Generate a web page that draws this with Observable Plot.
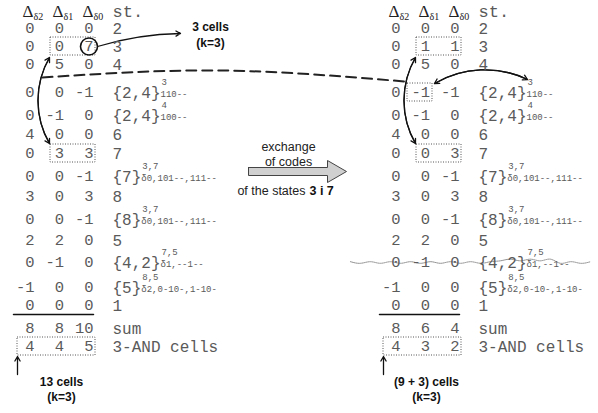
<!DOCTYPE html>
<html><head><meta charset="utf-8">
<script src="https://cdn.jsdelivr.net/npm/d3@7"></script>
<script src="https://cdn.jsdelivr.net/npm/@observablehq/plot@0.6"></script>
<style>body{margin:0;background:#fff}svg{display:block}</style>
</head><body><div id="chart"></div>
<script>
// ---- data ----
const stLabels = ["2","3","4","{2,4}","{2,4}","6","7","{7}","8","{8}","5","{4,2}","{5}","1"];
const stSups = ["","","","3","4","","","3,7","","3,7","","7,5","8,5",""];
const stSubs = ["","","","110--","100--","","","δ0,101--,111--","","δ0,101--,111--","","δ1,--1--","δ2,0-10-,1-10-",""];
const leftD2  = [0,0,0,0,0,4,0,0,3,0,2,0,-1,0];
const leftD1  = [0,0,5,0,-1,0,3,0,0,0,2,-1,0,0];
const leftD0  = [0,7,0,-1,0,0,3,-1,3,-1,0,0,0,0];
const rightD2 = [0,0,0,0,0,4,0,0,3,0,2,0,-1,0];
const rightD1 = [0,1,5,-1,-1,0,0,0,0,0,2,-1,0,0];
const rightD0 = [0,1,0,-1,0,0,3,-1,3,-1,0,0,0,0];
const leftSum = [8,8,10], rightSum = [8,6,4];
const leftCells = [4,4,5], rightCells = [4,3,2];
const headers = ["δ2","δ1","δ0"];
const leftNote = ["13 cells","(k=3)"], rightNote = ["(9 + 3) cells","(k=3)"];
const topNote = ["3 cells","(k=3)"];
const arrowText = ["exchange","of codes","of the states","3 i 7"];

// ---- layout ----
const W = 598, H = 413;
const colR = [34, 63.5, 93];
const stX = 112, OFF = 366, CH = 9.6;
const rowY = [28,46,64,92,115,134,153,176,196,219,240,262,287,305];
const sumY = 328, cellY = 346, headY = 11;
const mono = "Liberation Mono, DejaVu Sans Mono, monospace";
const sans = "Liberation Sans, Arial, sans-serif";
const serif = "Liberation Serif, Times New Roman, serif";
const grey = "#5a5a5a";

const nums = [], labels = [], sups = [], subs = [], hd = [], hdSub = [], st = [];
const tables = [
  {cols: [leftD2, leftD1, leftD0], sum: leftSum, cells: leftCells, off: 0},
  {cols: [rightD2, rightD1, rightD0], sum: rightSum, cells: rightCells, off: OFF}
];
for (const tb of tables) {
  tb.cols.forEach((col, j) => col.forEach((v, i) => nums.push({x: colR[j] + tb.off, y: rowY[i], t: String(v)})));
  tb.sum.forEach((v, j) => nums.push({x: colR[j] + tb.off, y: sumY, t: String(v)}));
  tb.cells.forEach((v, j) => nums.push({x: colR[j] + tb.off, y: cellY, t: String(v)}));
  stLabels.forEach((t, i) => labels.push({x: stX + tb.off, y: rowY[i], t}));
  labels.push({x: stX + tb.off, y: sumY, t: "sum"}, {x: stX + tb.off, y: cellY, t: "3-AND cells"});
  stSups.forEach((t, i) => { if (t) sups.push({x: stX + tb.off + stLabels[i].length * CH + 1, y: rowY[i] - 10.5, t}); });
  stSubs.forEach((t, i) => { if (t) subs.push({x: stX + tb.off + stLabels[i].length * CH, y: rowY[i] + 2, t}); });
  headers.forEach((h, j) => {
    hd.push({x: 22 + 30 * j + tb.off, y: headY, t: "Δ"});
    hdSub.push({x: 33 + 30 * j + tb.off, y: headY + 5, t: h});
  });
  st.push({x: stX + tb.off, y: headY, t: "st."});
}
// dotted boxes
const boxes = [
  {x1: 50, x2: 95, y1: 37, y2: 55},
  {x1: 50, x2: 95, y1: 144, y2: 162},
  {x1: 17, x2: 95, y1: 337, y2: 355},
  {x1: 50 + OFF, x2: 95 + OFF, y1: 37, y2: 55},
  {x1: 41 + OFF, x2: 66 + OFF, y1: 83, y2: 101},
  {x1: 50 + OFF, x2: 95 + OFF, y1: 144, y2: 162},
  {x1: 17 + OFF, x2: 95 + OFF, y1: 337, y2: 355}
];
const underlines = [
  [{x: 13, y: 314}, {x: 93, y: 314}],
  [{x: 13 + OFF, y: 314}, {x: 93 + OFF, y: 314}]
];
const dashed = [{x: 42, y: 77}, {x: 220, y: 70}, {x: 404, y: 81}];
const wave = d3.range(350, 598, 10).map((x, k) => ({x, y: 262 + (k % 2 ? 0.8 : -0.8) + (x > 490 && x < 560 ? -2.5 : 0)}));
const bigArrow = [[248,167],[327,167],[327,160],[346,171],[327,182],[327,175],[248,175],[248,167]].map(([x,y]) => ({x,y}));

// arrows grouped by bend angle
const arrowsTop = [{x1: 97, y1: 46, x2: 180, y2: 33}];
const arrowsDown = [{x1: 49, y1: 57, x2: 49, y2: 143}, {x1: 49 + OFF, y1: 57, x2: 49 + OFF, y2: 143}];
const arrowsUp = [{x1: 49, y1: 143, x2: 49, y2: 57}, {x1: 49 + OFF, y1: 143, x2: 49 + OFF, y2: 57}];
const arrowsRight = [{x1: 434, y1: 83, x2: 527, y2: 79}];
const arrowsLeft = [{x1: 527, y1: 79, x2: 434, y2: 83}];
const arrowsStraight = [{x1: 17, y1: 374, x2: 17, y2: 356}, {x1: 17 + OFF, y1: 374, x2: 17 + OFF, y2: 356}];
const notes = [
  {x: 61, y: 382, t: leftNote[0]}, {x: 61, y: 397, t: leftNote[1]},
  {x: 426, y: 382, t: rightNote[0]}, {x: 426, y: 397, t: rightNote[1]},
  {x: 210, y: 27, t: topNote[0]}, {x: 210, y: 43, t: topNote[1]}
];
const arrowOpts = {x1: "x1", y1: "y1", x2: "x2", y2: "y2", stroke: "#111", strokeWidth: 1.3, headLength: 6};

const chart = Plot.plot({
  width: W, height: H, margin: 0,
  x: {domain: [0, W], range: [0, W], axis: null},
  y: {domain: [0, H], range: [0, H], axis: null},
  marks: [
    Plot.line(bigArrow, {x: "x", y: "y", fill: "#d0d0d0", stroke: "#444", strokeWidth: 1}),
    Plot.line(dashed, {x: "x", y: "y", curve: "natural", stroke: "#222", strokeWidth: 2, strokeDasharray: "10,6"}),
    Plot.line(wave, {x: "x", y: "y", curve: "natural", stroke: "#888", strokeWidth: 1, strokeDasharray: "1,1"}),
    Plot.rect(boxes, {x1: "x1", x2: "x2", y1: "y1", y2: "y2", fill: "none", stroke: "#555", strokeWidth: 1, strokeDasharray: "1,1.5"}),
    ...underlines.map(u => Plot.line(u, {x: "x", y: "y", stroke: "#111", strokeWidth: 1.5})),
    Plot.dot([{x: 88.5, y: 46}], {x: "x", y: "y", r: 8.5, stroke: "#111", strokeWidth: 1.6}),
    Plot.arrow(arrowsTop, {...arrowOpts, bend: 8}),
    Plot.arrow(arrowsDown, {...arrowOpts, bend: -30}),
    Plot.arrow(arrowsUp, {...arrowOpts, bend: 30}),
    Plot.arrow(arrowsRight, {...arrowOpts, bend: 28}),
    Plot.arrow(arrowsLeft, {...arrowOpts, bend: -28}),
    Plot.arrow(arrowsStraight, {...arrowOpts}),
    Plot.text(nums, {x: "x", y: "y", text: "t", textAnchor: "end", fontFamily: mono, fontSize: 15.5, fill: grey}),
    Plot.text(labels, {x: "x", y: "y", text: "t", textAnchor: "start", fontFamily: mono, fontSize: 16, fill: grey}),
    Plot.text(sups, {x: "x", y: "y", text: "t", textAnchor: "start", fontFamily: mono, fontSize: 9, fill: grey}),
    Plot.text(subs, {x: "x", y: "y", text: "t", textAnchor: "start", fontFamily: mono, fontSize: 9, fill: grey}),
    Plot.text(hd, {x: "x", y: "y", text: "t", textAnchor: "start", fontFamily: serif, fontSize: 17, fill: "#222"}),
    Plot.text(hdSub, {x: "x", y: "y", text: "t", textAnchor: "start", fontFamily: serif, fontSize: 10, fill: "#222"}),
    Plot.text(st, {x: "x", y: "y", text: "t", textAnchor: "start", fontFamily: mono, fontSize: 17, fill: grey}),
    Plot.text(notes, {x: "x", y: "y", text: "t", fontFamily: sans, fontSize: 12, fontWeight: "bold", fill: "#111"}),
    Plot.text([{x: 288, y: 146, t: arrowText[0]}, {x: 288, y: 161, t: arrowText[1]}], {x: "x", y: "y", text: "t", fontFamily: sans, fontSize: 12.5, fill: "#222"}),
    Plot.text([{x: 305, y: 190, t: arrowText[2]}], {x: "x", y: "y", text: "t", textAnchor: "end", fontFamily: sans, fontSize: 12.5, fill: "#222"}),
    Plot.text([{x: 309, y: 190, t: arrowText[3]}], {x: "x", y: "y", text: "t", textAnchor: "start", fontFamily: sans, fontSize: 12.5, fontWeight: "bold", fill: "#111"})
  ]
});
document.getElementById("chart").appendChild(chart);
</script>
</body></html>
